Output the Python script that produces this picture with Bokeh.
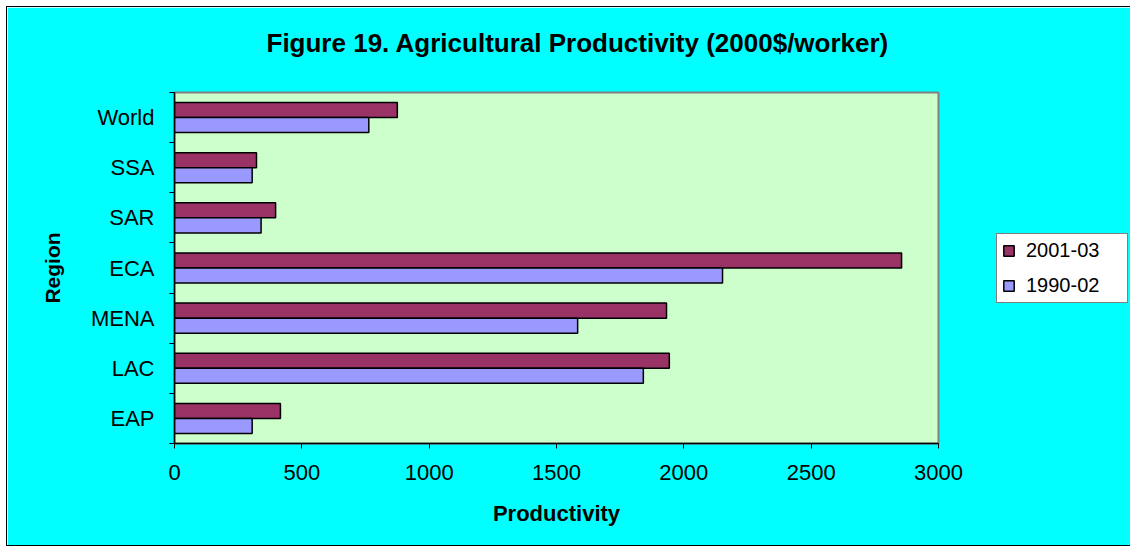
from bokeh.plotting import figure
from bokeh.models import ColumnDataSource, FixedTicker, Legend, LegendItem, Range1d, Title
from bokeh.transform import dodge
from bokeh.embed import file_html
from bokeh.resources import INLINE

regions = ["EAP", "LAC", "MENA", "ECA", "SAR", "SSA", "World"]
prod_2001_03 = [416, 1943, 1932, 2855, 397, 322, 875]
prod_1990_02 = [305, 1841, 1583, 2152, 340, 305, 763]
series_labels = ["2001-03", "1990-02"]
series_colors = ["#993366", "#9999FF"]
x_ticks = [0, 500, 1000, 1500, 2000, 2500, 3000]

FONT = "Liberation Sans"

centers = [i + 0.5 for i in range(len(regions))]
boundaries = list(range(len(regions) + 1))
src = ColumnDataSource(dict(region=regions, y=centers, v1=prod_2001_03, v2=prod_1990_02))

p = figure(
    frame_width=764, frame_height=351,
    x_range=Range1d(0, 3000), y_range=Range1d(0, len(regions)),
    output_backend="svg", toolbar_location=None,
    min_border_left=167, min_border_right=189, min_border_top=85, min_border_bottom=102,
    background_fill_color="#CCFFCC", border_fill_color="#00FFFF",
    outline_line_color="#808080", outline_line_width=2,
    styles={"margin-left": "6px", "margin-top": "6px", "border": "1px solid black"},
)

# spacer between the title and the plot area
p.add_layout(Title(text=" ", text_font_size="20px", standoff=6), "above")
p.add_layout(Title(text="Figure 19. Agricultural Productivity (2000$/worker)",
                   text_font=FONT, text_font_size="26px", text_font_style="bold",
                   text_color="black", align="left", offset=92, standoff=10), "above")

r1 = p.hbar(y=dodge("y", 0.15), left=0, right="v1", height=0.3, source=src,
            fill_color=series_colors[0], line_color="black", line_width=1.5)
r2 = p.hbar(y=dodge("y", -0.15), left=0, right="v2", height=0.3, source=src,
            fill_color=series_colors[1], line_color="black", line_width=1.5)

p.xgrid.visible = False
p.ygrid.visible = False

xa = p.xaxis[0]
xa.ticker = FixedTicker(ticks=x_ticks)
xa.major_tick_out = 5
xa.major_tick_in = 0
xa.minor_tick_out = 0
xa.minor_tick_in = 0
xa.axis_line_color = "black"
xa.axis_line_width = 1.5
xa.major_tick_line_color = "black"
xa.major_label_text_font = FONT
xa.major_label_text_font_size = "22px"
xa.major_label_text_color = "black"
xa.major_label_standoff = 16
xa.axis_label = "Productivity"
xa.axis_label_text_font = FONT
xa.axis_label_text_font_size = "22px"
xa.axis_label_text_font_style = "bold"
xa.axis_label_text_color = "black"
xa.axis_label_standoff = 18

ya = p.yaxis[0]
ya.ticker = FixedTicker(ticks=centers, minor_ticks=boundaries)
ya.major_label_overrides = {c: r for c, r in zip(centers, regions)}
ya.major_tick_out = 0
ya.major_tick_in = 0
ya.minor_tick_out = 5
ya.minor_tick_in = 0
ya.minor_tick_line_color = "black"
ya.axis_line_color = "black"
ya.axis_line_width = 1.5
ya.major_label_text_font = FONT
ya.major_label_text_font_size = "22px"
ya.major_label_text_color = "black"
ya.major_label_standoff = 15
ya.axis_label = "Region"
ya.axis_label_text_font = FONT
ya.axis_label_text_font_size = "21px"
ya.axis_label_text_font_style = "bold"
ya.axis_label_text_color = "black"
ya.axis_label_standoff = 24

legend = Legend(
    items=[LegendItem(label=series_labels[0], renderers=[r1]),
           LegendItem(label=series_labels[1], renderers=[r2])],
    location=(58, 140),
    glyph_width=13, glyph_height=13,
    label_text_font=FONT, label_text_font_size="20px", label_text_color="black",
    label_width=96,
    border_line_color="black", border_line_width=1.5,
    background_fill_color="white", background_fill_alpha=1.0,
    padding=5, spacing=12, label_standoff=11, margin=0,
)
p.add_layout(legend, "right")

open("out.html", "w").write(file_html(p, INLINE))
